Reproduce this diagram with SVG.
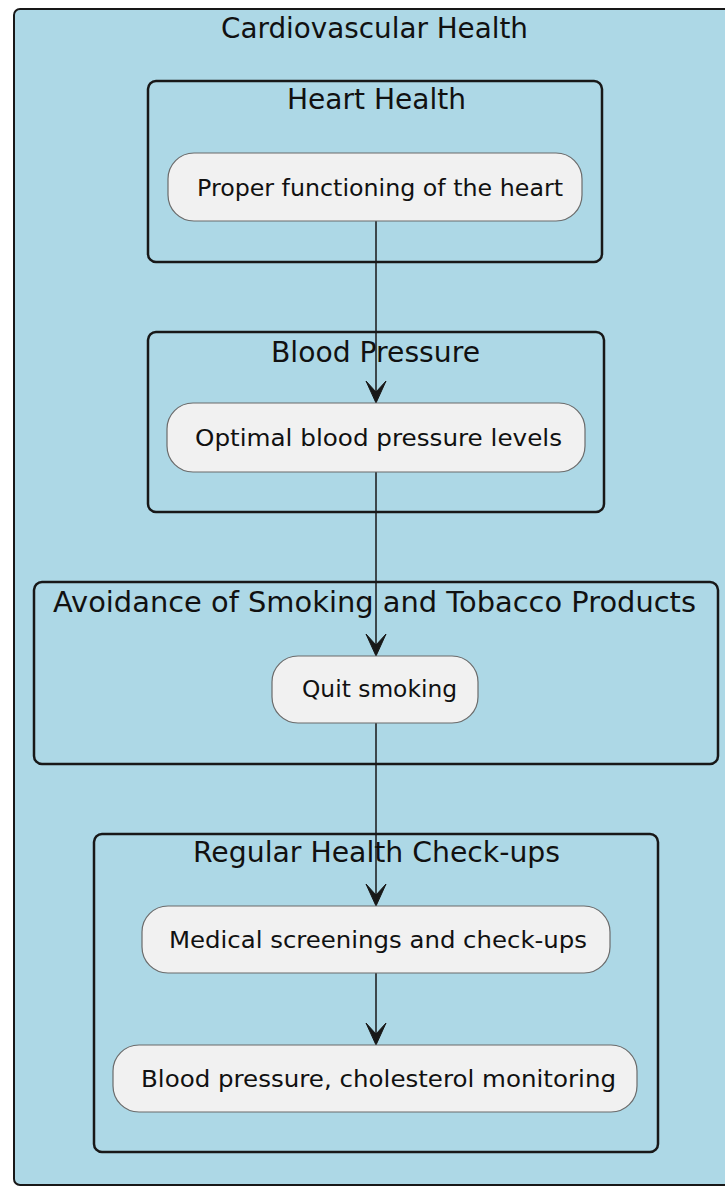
<svg xmlns="http://www.w3.org/2000/svg" width="725" height="1188" viewBox="0 0 725 1188">
<style>
.frame{fill:#ADD8E6;stroke:#181818;stroke-width:2}
.part{fill:none;stroke:#181818;stroke-width:2.5}
.node{fill:#F1F1F1;stroke:#6b6b6b;stroke-width:1.2}
.title{font-family:"DejaVu Sans",sans-serif;font-size:28px;fill:#111;text-anchor:middle}
.label{font-family:"DejaVu Sans",sans-serif;font-size:23.7px;fill:#111;text-anchor:middle}
.edge{stroke:#181818;stroke-width:1.5;fill:none}
.head{fill:#181818;stroke:#181818;stroke-width:1}
</style>
<defs>
<polygon id="arrow" points="0,0 -10,-22 0,-11 10,-22"/>
</defs>
<g id="cardiovascular-health">
<rect class="frame" x="14" y="9" width="740" height="1176" rx="6"/>
<text class="title" x="374.5" y="38" textLength="307" lengthAdjust="spacingAndGlyphs">Cardiovascular Health</text>
</g>
<g id="heart-health">
<rect class="part" x="148" y="81" width="454" height="181" rx="8"/>
<text class="title" x="376.5" y="109" textLength="179" lengthAdjust="spacingAndGlyphs">Heart Health</text>
</g>
<g id="blood-pressure">
<rect class="part" x="148" y="332" width="456" height="180" rx="8"/>
<text class="title" x="375.5" y="362" textLength="209" lengthAdjust="spacingAndGlyphs">Blood Pressure</text>
</g>
<g id="avoidance">
<rect class="part" x="34" y="582" width="684" height="182" rx="8"/>
<text class="title" x="374.5" y="612" textLength="643" lengthAdjust="spacingAndGlyphs">Avoidance of Smoking and Tobacco Products</text>
</g>
<g id="checkups">
<rect class="part" x="94" y="834" width="564" height="318" rx="8"/>
<text class="title" x="376.5" y="862" textLength="367" lengthAdjust="spacingAndGlyphs">Regular Health Check-ups</text>
</g>
<g id="connectors">
<line class="edge" x1="376" y1="221" x2="376" y2="396"/>
<use href="#arrow" class="head" x="376" y="403"/>
<line class="edge" x1="376" y1="472" x2="376" y2="648"/>
<use href="#arrow" class="head" x="376" y="656"/>
<line class="edge" x1="376" y1="723" x2="376" y2="898"/>
<use href="#arrow" class="head" x="376" y="906"/>
<line class="edge" x1="376" y1="973" x2="376" y2="1037"/>
<use href="#arrow" class="head" x="376" y="1045"/>
</g>
<g id="node-heart">
<rect class="node" x="168" y="153" width="414" height="68" rx="26"/>
<text class="label" x="380" y="196" textLength="366" lengthAdjust="spacingAndGlyphs">Proper functioning of the heart</text>
</g>
<g id="node-bp">
<rect class="node" x="167" y="403" width="418" height="69" rx="26"/>
<text class="label" x="378.5" y="446" textLength="367" lengthAdjust="spacingAndGlyphs">Optimal blood pressure levels</text>
</g>
<g id="node-quit">
<rect class="node" x="272" y="656" width="206" height="67" rx="26"/>
<text class="label" x="379.5" y="697" textLength="155" lengthAdjust="spacingAndGlyphs">Quit smoking</text>
</g>
<g id="node-screenings">
<rect class="node" x="142" y="906" width="468" height="67" rx="26"/>
<text class="label" x="378" y="948" textLength="418" lengthAdjust="spacingAndGlyphs">Medical screenings and check-ups</text>
</g>
<g id="node-monitoring">
<rect class="node" x="113" y="1045" width="524" height="67" rx="26"/>
<text class="label" x="378.5" y="1087" textLength="475" lengthAdjust="spacingAndGlyphs">Blood pressure, cholesterol monitoring</text>
</g>
</svg>
